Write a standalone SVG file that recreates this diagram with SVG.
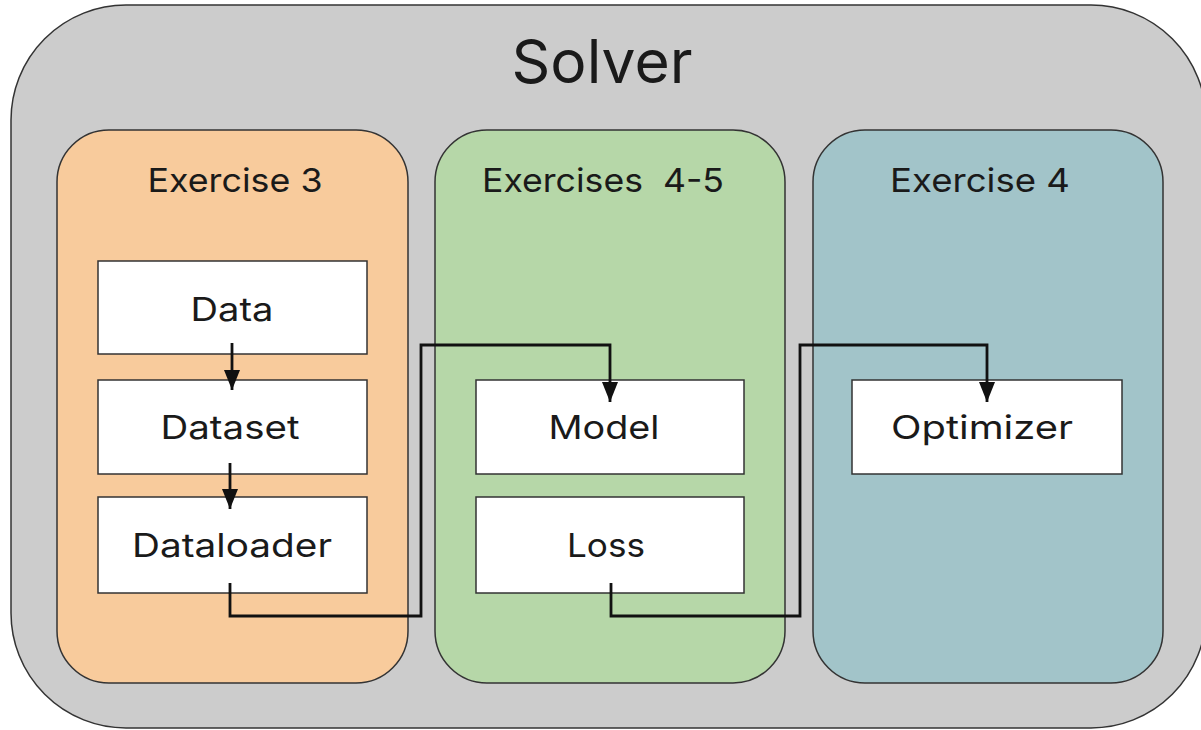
<svg xmlns="http://www.w3.org/2000/svg" width="1201" height="730" viewBox="0 0 1201 730">
<defs>
<style>
.frame{stroke:#333;stroke-width:1.5}
.box{fill:#fff;stroke:#333;stroke-width:1.5}
.t{font-family:Inter,"Liberation Sans",sans-serif;fill:#1a1a1a;text-anchor:middle;font-weight:400}
.lbl{font-size:33px}
.hdr{font-size:33px}
.conn{fill:none;stroke:#111;stroke-width:2.8}
</style>
<marker id="ah" markerUnits="userSpaceOnUse" markerWidth="20" markerHeight="16" viewBox="0 0 20 16" refX="20" refY="8" orient="auto">
<path d="M0,0 L20,8 L0,16 Z" fill="#111"/>
</marker>
</defs>
<rect width="1201" height="730" fill="#fff"/>
<g id="solver">
<rect class="frame" x="11" y="5" width="1195" height="723" rx="115" ry="115" fill="#cccccc"/>
<text class="t" x="602" y="83" font-size="60" textLength="181" lengthAdjust="spacingAndGlyphs">Solver</text>
</g>
<g id="exercise3">
<rect class="frame" x="57" y="130" width="351" height="553" rx="52" ry="52" fill="#f8cb9c"/>
<text class="t hdr" x="235" y="192" textLength="175" lengthAdjust="spacingAndGlyphs">Exercise 3</text>
</g>
<g id="exercises45">
<rect class="frame" x="435" y="130" width="350" height="553" rx="52" ry="52" fill="#b6d7a8"/>
<text class="t hdr" x="603" y="192" textLength="242" lengthAdjust="spacingAndGlyphs" xml:space="preserve">Exercises  4-5</text>
</g>
<g id="exercise4">
<rect class="frame" x="813" y="130" width="350" height="553" rx="52" ry="52" fill="#a2c4c9"/>
<text class="t hdr" x="980" y="192" textLength="180" lengthAdjust="spacingAndGlyphs">Exercise 4</text>
</g>
<g id="data">
<rect class="box" x="98" y="261" width="269" height="93"/>
<text class="t lbl" x="232" y="321" textLength="83" lengthAdjust="spacingAndGlyphs">Data</text>
</g>
<g id="dataset">
<rect class="box" x="98" y="380" width="269" height="94"/>
<text class="t lbl" x="230" y="439" textLength="139" lengthAdjust="spacingAndGlyphs">Dataset</text>
</g>
<g id="dataloader">
<rect class="box" x="98" y="497" width="269" height="96"/>
<text class="t lbl" x="232" y="557" textLength="200" lengthAdjust="spacingAndGlyphs">Dataloader</text>
</g>
<g id="model">
<rect class="box" x="476" y="380" width="268" height="94"/>
<text class="t lbl" x="604" y="439" textLength="111" lengthAdjust="spacingAndGlyphs">Model</text>
</g>
<g id="loss">
<rect class="box" x="476" y="497" width="268" height="96"/>
<text class="t lbl" x="606" y="557" textLength="78" lengthAdjust="spacingAndGlyphs">Loss</text>
</g>
<g id="optimizer">
<rect class="box" x="852" y="380" width="270" height="94"/>
<text class="t lbl" x="982" y="439" textLength="182" lengthAdjust="spacingAndGlyphs">Optimizer</text>
</g>
<g id="connectors">
<path class="conn" d="M232,343 V390" marker-end="url(#ah)"/>
<path class="conn" d="M230,463 V509" marker-end="url(#ah)"/>
<path class="conn" d="M230,583 V616 H421 V345 H610 V402" marker-end="url(#ah)"/>
<path class="conn" d="M611,583 V616 H800 V345 H987 V402" marker-end="url(#ah)"/>
</g>
</svg>
